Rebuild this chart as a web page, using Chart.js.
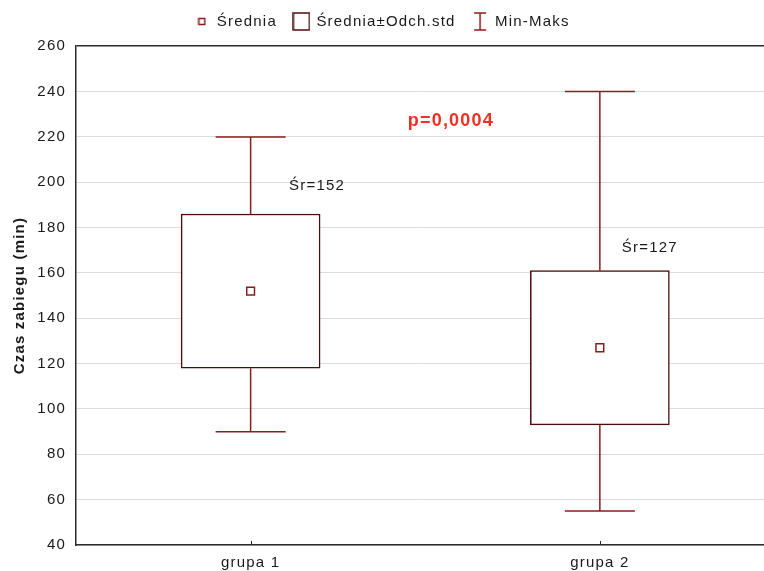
<!DOCTYPE html>
<html>
<head>
<meta charset="utf-8">
<script src="https://cdn.jsdelivr.net/npm/chart.js@4/dist/chart.umd.min.js"></script>
<style>
  html, body { margin: 0; padding: 0; background: #fff; overflow: hidden; }
  #wrap { width: 764px; height: 571px; }
</style>
</head>
<body>
<div id="wrap"><canvas id="chart"></canvas></div>
<script>
// --- DATA ---
const groups = ['grupa 1', 'grupa 2'];
const means = [152, 127];
const stdDevs = [34, 34];
const mins = [90, 55];
const maxs = [220, 240];
const yTicks = [40, 60, 80, 100, 120, 140, 160, 180, 200, 220, 240, 260];
const pValueText = 'p=0,0004';

// --- STYLE ---
const FONT = 'Arial, "Liberation Sans", sans-serif';
const SPACING = '1.2px';
const TEXT = '#1a1a1a';
const AXIS = '#2b2b2b';
const GRID = '#dcdcdc';
const BOX = '#4a0d0d';
const WHISKER = '#8c1c1c';
const P_RED = '#ee3124';
const CAP_HALF = 35;

// where the text notes sit, in data units
const meanNoteAt = [{ x: 1.11, y: 198.2 }, { x: 2.063, y: 171 }];
const pNoteAt = { x: 1.45, y: 227 };

// --- LEGEND ICONS ---
function makeIcon(w, h, draw) {
    const c = document.createElement('canvas');
    c.width = w; c.height = h;
    draw(c.getContext('2d'));
    return c;
}
const meanIcon = makeIcon(9, 9, g => {
    g.fillStyle = '#fff'; g.strokeStyle = WHISKER; g.lineWidth = 1.5;
    g.fillRect(1, 1, 7, 7); g.strokeRect(1.5, 1.5, 6, 6);
});
const boxIcon = makeIcon(18, 19, g => {
    g.fillStyle = '#fff'; g.strokeStyle = BOX; g.lineWidth = 1.5;
    g.fillRect(1, 1, 16, 17); g.strokeRect(1, 1, 16, 17);
});
const whiskerIcon = makeIcon(14, 19, g => {
    g.strokeStyle = WHISKER; g.lineWidth = 1.5;
    g.beginPath();
    g.moveTo(1, 1); g.lineTo(13, 1);
    g.moveTo(7, 1); g.lineTo(7, 18);
    g.moveTo(1, 18); g.lineTo(13, 18);
    g.stroke();
});

// --- EXTRA DRAWING: whiskers, inward x ticks, notes ---
const boxPlotExtras = {
    id: 'boxPlotExtras',
    beforeLayout(chart) { chart.ctx.letterSpacing = SPACING; },
    beforeDraw(chart) { chart.ctx.letterSpacing = SPACING; },
    afterDatasetsDraw(chart) {
        const { ctx, chartArea, scales: { x, y } } = chart;
        ctx.save();
        ctx.letterSpacing = SPACING;
        ctx.strokeStyle = WHISKER;
        ctx.lineWidth = 1.5;
        groups.forEach((g, i) => {
            const px = x.getPixelForValue(i + 1);
            const top = y.getPixelForValue(means[i] + stdDevs[i]);
            const bottom = y.getPixelForValue(means[i] - stdDevs[i]);
            const hi = y.getPixelForValue(maxs[i]);
            const lo = y.getPixelForValue(mins[i]);
            ctx.beginPath();
            ctx.moveTo(px, top); ctx.lineTo(px, hi);
            ctx.moveTo(px - CAP_HALF, hi); ctx.lineTo(px + CAP_HALF, hi);
            ctx.moveTo(px, bottom); ctx.lineTo(px, lo);
            ctx.moveTo(px - CAP_HALF, lo); ctx.lineTo(px + CAP_HALF, lo);
            ctx.stroke();
        });

        ctx.strokeStyle = AXIS;
        ctx.lineWidth = 1;
        x.ticks.forEach(t => {
            const px = Math.round(x.getPixelForValue(t.value)) + 0.5;
            ctx.beginPath();
            ctx.moveTo(px, chartArea.bottom);
            ctx.lineTo(px, chartArea.bottom - 4);
            ctx.stroke();
        });

        ctx.textBaseline = 'middle';
        ctx.textAlign = 'left';
        ctx.fillStyle = TEXT;
        ctx.font = '15px ' + FONT;
        meanNoteAt.forEach((p, i) => {
            ctx.fillText('Śr=' + means[i], x.getPixelForValue(p.x), y.getPixelForValue(p.y));
        });
        ctx.fillStyle = P_RED;
        ctx.font = 'bold 18px ' + FONT;
        ctx.fillText(pValueText, x.getPixelForValue(pNoteAt.x), y.getPixelForValue(pNoteAt.y));
        ctx.restore();
    }
};

// --- CHART ---
new Chart(document.getElementById('chart'), {
    type: 'bar',
    data: {
        datasets: [
            {
                type: 'scatter',
                label: 'Średnia',
                data: groups.map((g, i) => ({ x: i + 1, y: means[i] })),
                pointStyle: 'rect',
                pointRadius: 5.5,
                borderWidth: 1.5,
                borderColor: WHISKER,
                backgroundColor: '#fff',
                order: 0
            },
            {
                label: 'Średnia±Odch.std',
                data: groups.map((g, i) => ({ x: i + 1, y: [means[i] - stdDevs[i], means[i] + stdDevs[i]] })),
                backgroundColor: '#fff',
                borderColor: BOX,
                borderWidth: 1.5,
                borderSkipped: false,
                barThickness: 139,
                order: 1
            }
        ]
    },
    options: {
        responsive: true,
        maintainAspectRatio: false,
        animation: false,
        layout: { autoPadding: false, padding: { top: -3, left: 0, right: 0, bottom: 0 } },
        plugins: {
            tooltip: { enabled: false },
            legend: {
                position: 'top',
                weight: 2000,
                labels: {
                    usePointStyle: true,
                    boxWidth: 15,
                    color: TEXT,
                    padding: 17,
                    font: { family: FONT, size: 15 },
                    generateLabels: () => [
                        { text: 'Średnia', pointStyle: meanIcon, fontColor: TEXT, datasetIndex: 0 },
                        { text: 'Średnia±Odch.std', pointStyle: boxIcon, fontColor: TEXT, datasetIndex: 1 },
                        { text: 'Min-Maks', pointStyle: whiskerIcon, fontColor: TEXT, datasetIndex: 2 }
                    ]
                },
                onClick: () => {}
            },
            // empty subtitle used only as a gap between legend and plot
            subtitle: {
                display: true,
                text: '',
                position: 'top',
                weight: 500,
                font: { size: 1 },
                padding: { top: 0, bottom: 6 }
            }
        },
        scales: {
            x: {
                type: 'linear',
                offset: false,
                min: 0.5,
                max: 2.47,
                afterBuildTicks: s => { s.ticks = groups.map((g, i) => ({ value: i + 1 })); },
                afterFit: s => { s.height = 26; s.paddingRight = 0; s.paddingLeft = 0; },
                ticks: {
                    color: TEXT,
                    font: { family: FONT, size: 15 },
                    padding: 9,
                    autoSkip: false,
                    maxRotation: 0,
                    callback: v => groups[v - 1]
                },
                grid: { offset: false, drawOnChartArea: false, drawTicks: false },
                border: { color: AXIS, width: 1.5 }
            },
            y: {
                min: 40,
                max: 260,
                afterBuildTicks: s => { s.ticks = yTicks.map(v => ({ value: v })); },
                afterFit: s => { s.width = 76; },
                ticks: {
                    color: TEXT,
                    font: { family: FONT, size: 15 },
                    padding: 10
                },
                grid: {
                    drawTicks: false,
                    color: c => (c.tick && c.tick.value === 260 ? AXIS : GRID),
                    lineWidth: c => (c.tick && c.tick.value === 260 ? 1.5 : 1)
                },
                border: { color: AXIS, width: 1.5 },
                title: {
                    display: true,
                    text: 'Czas zabiegu (min)',
                    color: TEXT,
                    font: { family: FONT, size: 15, weight: 'bold' },
                    padding: { top: 11, bottom: 0 }
                }
            }
        }
    },
    plugins: [boxPlotExtras]
});
</script>
</body>
</html>
